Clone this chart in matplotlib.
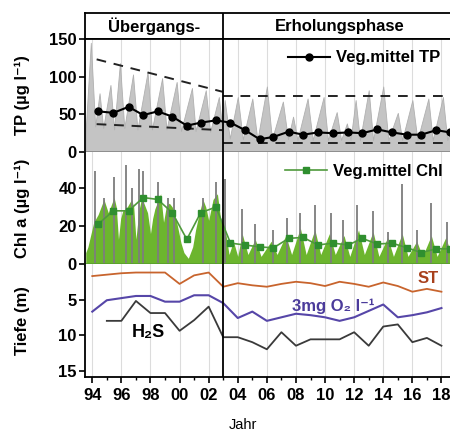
import matplotlib
matplotlib.use("Agg")
import matplotlib.pyplot as plt
from matplotlib.ticker import MultipleLocator

plt.rcParams['font.family'] = ['Liberation Sans', 'DejaVu Sans']
plt.rcParams['font.weight'] = 'bold'
plt.rcParams['axes.labelweight'] = 'bold'

# --- TP (gray seasonal spikes)
tp_t = [1993.55, 1993.9, 1994.2, 1994.5, 1994.75, 1995.25, 1995.5, 1995.9, 1996.2,
        1996.8, 1997.1, 1997.8, 1998.1, 1998.8, 1999.1, 1999.8, 2000.1, 2000.85,
        2001.1, 2001.8, 2002.1, 2002.7, 2002.95,
        2003.1, 2003.45, 2004.0, 2004.35, 2005.0, 2005.35, 2006.0, 2006.35, 2007.1,
        2007.45, 2007.8, 2008.1, 2008.8, 2009.15, 2009.9, 2010.2, 2010.8, 2011.1,
        2011.5, 2011.75, 2012.1, 2012.4, 2013.0, 2013.3, 2014.0, 2014.35, 2015.0,
        2015.3, 2016.0, 2016.35, 2017.1, 2017.4, 2018.1, 2018.4, 2018.8, 2019.0]
tp_v = [30, 145, 34, 78, 32, 89, 30, 118, 32,
        103, 30, 106, 30, 98, 30, 93, 28, 85,
        28, 82, 27, 73, 28,
        69, 18, 73, 17, 71, 16, 87, 17, 67,
        17, 47, 16, 71, 16, 73, 16, 53, 16,
        38, 16, 69, 16, 82, 16, 87, 16, 52,
        16, 69, 16, 71, 16, 73, 16, 40, 18]

tp_mean_t = [1994.4, 1995.45, 1996.5, 1997.5, 1998.5, 1999.5, 2000.5, 2001.45, 2002.5,
             2003.5, 2004.5, 2005.5, 2006.45, 2007.5, 2008.5, 2009.5, 2010.55, 2011.6,
             2012.55, 2013.6, 2014.6, 2015.65, 2016.6, 2017.65, 2018.6]
tp_mean_v = [54, 52, 60, 49, 54, 47, 35, 39, 42,
             39, 29, 17, 20, 27, 23, 26, 25, 26,
             25, 30, 26, 23, 23, 29, 26]

tp_env_pre_t = [1994.3, 2002.95]
tp_env_pre_hi = [123, 80]
tp_env_pre_lo = [37, 29]
tp_env_rec_t = [2003.0, 2019.0]
tp_env_rec_hi = [74, 74]
tp_env_rec_lo = [12, 12]

# --- Chl a
chl_t = [1993.55, 1993.7, 1994.1, 1994.4, 1994.6, 1994.8, 1995.1, 1995.3, 1995.5, 1995.65,
         1995.8, 1995.95, 1996.1, 1996.4, 1996.7, 1996.85, 1997.0, 1997.15, 1997.2, 1997.4,
         1997.6, 1997.8, 1998.0, 1998.15, 1998.3, 1998.5, 1998.7, 1998.9, 1999.1, 1999.3,
         1999.5, 1999.8, 2000.1, 2000.3, 2000.6, 2000.9, 2001.1, 2001.3, 2001.6, 2001.8,
         2002.0, 2002.3, 2002.6, 2002.8, 2003.0,
         2003.1, 2003.4, 2003.7, 2004.0, 2004.3, 2004.7, 2005.2, 2005.6, 2006.3,
         2006.7, 2007.3, 2007.7, 2008.3, 2008.7, 2009.3, 2009.7, 2010.3, 2010.7,
         2011.3, 2011.7, 2012.3, 2012.7, 2013.3, 2013.7, 2014.3, 2014.7, 2015.3,
         2015.7, 2016.3, 2016.7, 2017.3, 2017.7, 2018.3, 2018.7, 2019.0]
chl_v = [6, 9, 22, 26, 30, 34, 27, 31, 35, 30,
         13, 24, 28, 30, 34, 30, 13, 24, 28, 35,
         31, 27, 16, 24, 29, 33, 37, 22, 31, 32,
         30, 22, 11, 6, 3, 9, 18, 25, 34, 30,
         23, 34, 37, 25, 18,
         20, 5, 12, 4, 16, 5, 13, 4, 12,
         5, 15, 5, 19, 5, 18, 5, 16, 5,
         15, 4, 18, 5, 17, 4, 14, 4, 16,
         4, 12, 4, 15, 4, 14, 4, 6]

chl_spike_t = [1994.2, 1994.8, 1995.5, 1996.3, 1996.7, 1997.2, 1997.5, 1998.5,
               1999.2, 1999.6, 2001.6, 2002.5,
               2003.1, 2004.3, 2005.2, 2006.4, 2007.4, 2008.3, 2009.3, 2010.4,
               2011.2, 2012.2, 2013.3, 2014.3, 2015.3, 2016.3, 2017.3, 2018.4]
chl_spike_v = [49, 35, 46, 52, 40, 50, 49, 43,
               35, 35, 35, 43,
               45, 29, 21, 18, 24, 27, 31, 27,
               23, 31, 28, 17, 42, 18, 32, 22]

chl_mean_t = tp_mean_t
chl_mean_v = [21, 28, 28, 35, 34, 27, 13, 27, 30,
              11, 10, 9, 8.5, 13.5, 14, 10, 11, 10,
              13.5, 10.5, 11, 8.5, 6, 8, 8]

# --- depths (m)
years = list(range(1994, 2019))
st = [1.7, 1.5, 1.3, 1.2, 1.2, 1.2, 2.8, 1.6, 1.2, 3.2, 2.7, 3.0, 3.2,
      2.8, 2.5, 2.7, 3.1, 2.5, 2.8, 3.2, 2.6, 3.1, 3.9, 3.5, 3.9]
o2 = [6.7, 5.1, 4.8, 4.5, 4.5, 5.3, 5.3, 4.4, 4.4, 5.5, 7.6, 6.7, 8.0,
      7.5, 7.0, 7.2, 7.5, 8.0, 7.5, 6.6, 5.7, 7.5, 7.2, 6.8, 6.2]
h2s_years = list(range(1995, 2019))
h2s = [8.0, 8.0, 5.2, 6.9, 6.9, 9.4, 7.9, 6.0, 10.3, 10.3, 11.0, 12.0,
       9.6, 11.5, 10.6, 10.6, 10.6, 9.6, 11.5, 8.8, 8.5, 11.0, 10.4, 11.5]

xticks = list(range(1994, 2019, 2))
xticklabels = ['94', '96', '98', '00', '02', '04', '06', '08', '10', '12', '14', '16', '18']

fig = plt.figure(figsize=(4.5, 4.32), dpi=100)
L, W = 85 / 450, 371 / 450
xmin, xmax = 1993.5, 2019.0
split = 2003.0

ax_h = fig.add_axes([L, 0.9097, W, 0.0602])
ax_tp = fig.add_axes([L, 0.6481, W, 0.2616])
ax_chl = fig.add_axes([L, 0.3889, W, 0.2593])
ax_d = fig.add_axes([L, 0.1273, W, 0.2616])

for ax in (ax_h, ax_tp, ax_chl, ax_d):
    ax.set_xlim(xmin, xmax)
    ax.axvline(split, color='black', lw=1.3, zorder=6)
    for s in ax.spines.values():
        s.set_linewidth(1.3)
    ax.tick_params(axis='y', direction='out', length=4, width=1.2, labelsize=12, pad=2)
    ax.tick_params(axis='x', which='both', bottom=False, labelbottom=False)
    if ax is not ax_h:
        for xt in xticks:
            ax.axvline(xt, color='#dcdcdc', lw=0.8, zorder=0)

# header
ax_h.set_yticks([])
ax_h.set_ylim(0, 1)
ax_h.text((xmin + split) / 2, 0.5, 'Übergangs-', ha='center', va='center', fontsize=12)
ax_h.text((split + xmax) / 2, 0.5, 'Erholungsphase', ha='center', va='center', fontsize=12)

# TP
ax_tp.fill_between(tp_t, tp_v, 0, color='#c4c4c4', lw=0.6, edgecolor='#b0b0b0', zorder=1)
for tt, hi, lo in [(tp_env_pre_t, tp_env_pre_hi, tp_env_pre_lo),
                   (tp_env_rec_t, tp_env_rec_hi, tp_env_rec_lo)]:
    ax_tp.plot(tt, hi, color='#222222', lw=1.4, ls=(0, (5, 4)), zorder=3)
    ax_tp.plot(tt, lo, color='#222222', lw=1.4, ls=(0, (5, 4)), zorder=3)
ax_tp.plot(tp_mean_t, tp_mean_v, color='black', lw=1.5, marker='o', ms=5,
           label='Veg.mittel TP', zorder=4)
ax_tp.set_ylim(0, 150)
ax_tp.set_yticks([0, 50, 100, 150])
ax_tp.spines['bottom'].set_color('#8a8a8a')
ax_tp.legend(loc='center left', bbox_to_anchor=(0.547, 0.832), frameon=False,
             fontsize=12, handlelength=2.5, handletextpad=0.4, borderpad=0,
             borderaxespad=0)

# Chl a
ax_chl.fill_between(chl_t, chl_v, 0, color='#6cb52e', lw=0, zorder=1)
ax_chl.vlines(chl_spike_t, 0, chl_spike_v, color='#7d7d7d', lw=1.3, zorder=2)
ax_chl.plot(chl_mean_t, chl_mean_v, color='#4f9a3c', lw=1.2, marker='s', ms=4.5,
            mfc='#2f8f2f', mec='#2f8f2f', label='Veg.mittel Chl', zorder=4)
ax_chl.set_ylim(0, 59)
ax_chl.set_yticks([0, 20, 40])
ax_chl.spines['top'].set_visible(False)
ax_chl.spines['bottom'].set_color('#5aa02c')
ax_chl.spines['bottom'].set_linewidth(2)
ax_chl.legend(loc='center left', bbox_to_anchor=(0.539, 0.830), frameon=False,
              fontsize=12, handlelength=2.5, handletextpad=0.4, borderpad=0,
              borderaxespad=0)

# depths
ax_d.plot(years, st, color='#c8642d', lw=1.3)
ax_d.plot(years, o2, color='#5646a8', lw=1.5)
ax_d.plot(h2s_years, h2s, color='#3a3a3a', lw=1.3)
ax_d.set_ylim(15.9, 0)
ax_d.set_yticks([5, 10, 15])
ax_d.spines['top'].set_visible(False)
ax_d.text(2017.05, 2.1, 'ST', color='#a8401c', fontsize=12, ha='center', va='center')
ax_d.text(2007.75, 5.9, '3mg O₂ l⁻¹', color='#4b3b9b', fontsize=12, ha='left', va='center')
ax_d.text(1997.85, 9.6, 'H₂S', color='black', fontsize=13, ha='center', va='center')
ax_d.set_xticks(xticks)
ax_d.set_xticklabels(xticklabels)
ax_d.xaxis.set_minor_locator(MultipleLocator(1))
ax_d.tick_params(axis='x', which='major', bottom=True, labelbottom=True, direction='out',
                 length=4, width=1.2, labelsize=12, pad=4)
ax_d.tick_params(axis='x', which='minor', bottom=True, direction='out', length=2, width=1)

fig.text(22 / 450, 0.779, 'TP (µg l⁻¹)', rotation=90, ha='center', va='center', fontsize=12)
fig.text(22 / 450, 0.5185, 'Chl a (µg l⁻¹)', rotation=90, ha='center', va='center', fontsize=12)
fig.text(22 / 450, 0.259, 'Tiefe (m)', rotation=90, ha='center', va='center', fontsize=12)
fig.text(243 / 450, 0.006, 'Jahr', ha='center', va='baseline', fontsize=10.5, fontweight='normal')

fig.savefig('out.png', dpi=100)
